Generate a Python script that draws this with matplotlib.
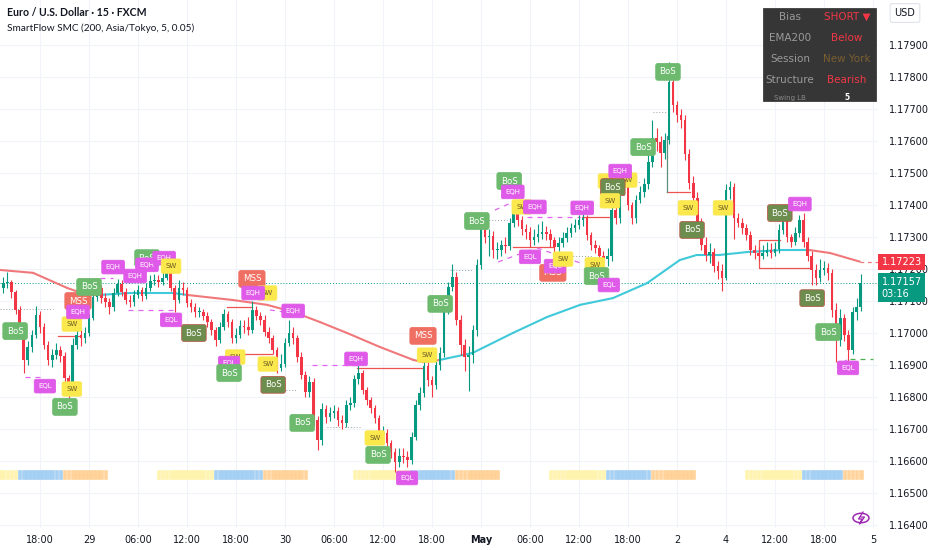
import numpy as np
import matplotlib.pyplot as plt
import matplotlib.transforms as mtransforms
from matplotlib.patches import Rectangle, Circle
from matplotlib.lines import Line2D

# 30-minute candles, prices in points (1e-5)
opens = [117140, 117156, 117159, 117128, 117072, 117025, 116916, 116956, 116994, 117056,
         117019, 116963, 116916, 116931, 116947, 116928, 116859, 116828, 116963, 116994,
         116984, 117000, 117047, 117113, 117141, 117109, 117097, 117081, 117125, 117153,
         117128, 117103, 117097, 117119, 117134, 117116, 117141, 117163, 117166, 117159,
         117172, 117188, 117141, 117103, 117141, 117134, 117094, 117081, 117066, 117066,
         117053, 117034, 117009, 116978, 117019, 117059, 117034, 116984, 116994, 117022,
         117019, 117009, 117072, 117053, 117041, 117003, 116984, 116947, 116891, 116903,
         116969, 117000, 116984, 116925, 116869, 116816, 116847, 116728, 116666, 116763,
         116738, 116750, 116756, 116728, 116719, 116775, 116781, 116856, 116875, 116822,
         116791, 116766, 116734, 116688, 116688, 116656, 116628, 116597, 116616, 116613,
         116603, 116675, 116775, 116813, 116897, 116853, 116838, 116900, 116938, 117072,
         117144, 117175, 117041, 116963, 116925, 116931, 117009, 117213, 117334, 117300,
         117303, 117259, 117259, 117275, 117272, 117344, 117388, 117353, 117325, 117316,
         117291, 117300, 117309, 117316, 117309, 117291, 117269, 117281, 117297, 117313,
         117328, 117338, 117353, 117359, 117306, 117275, 117266, 117241, 117231, 117241,
         117384, 117359, 117453, 117463, 117400, 117359, 117416, 117441, 117466, 117534,
         117609, 117597, 117563, 117603, 117784, 117713, 117681, 117666, 117559, 117469,
         117422, 117347, 117275, 117244, 117253, 117209, 117194, 117172, 117447, 117456,
         117359, 117344, 117328, 117306, 117259, 117250, 117241, 117250, 117259, 117250,
         117263, 117322, 117353, 117300, 117284, 117313, 117353, 117284, 117241, 117197,
         117172, 117197, 117203, 117188, 117072, 116978, 117047, 116994, 116947, 117066,
         117081]
closes = [117156, 117159, 117128, 117072, 117025, 116916, 116956, 116994, 117056, 117019,
          116963, 116916, 116931, 116947, 116928, 116859, 116828, 116963, 116994, 116984,
          117000, 117047, 117113, 117141, 117109, 117097, 117081, 117125, 117153, 117128,
          117103, 117097, 117119, 117134, 117116, 117141, 117163, 117166, 117159, 117172,
          117188, 117141, 117103, 117141, 117134, 117094, 117081, 117066, 117066, 117053,
          117034, 117009, 116978, 117019, 117059, 117034, 116984, 116994, 117022, 117019,
          117009, 117072, 117053, 117041, 117003, 116984, 116947, 116891, 116903, 116969,
          117000, 116984, 116925, 116869, 116816, 116847, 116728, 116666, 116763, 116738,
          116750, 116756, 116728, 116719, 116775, 116781, 116856, 116875, 116822, 116791,
          116766, 116734, 116688, 116688, 116656, 116628, 116597, 116616, 116613, 116603,
          116675, 116775, 116813, 116897, 116853, 116838, 116900, 116938, 117072, 117144,
          117175, 117041, 116963, 116925, 116931, 117009, 117213, 117334, 117300, 117303,
          117259, 117259, 117275, 117272, 117344, 117388, 117353, 117325, 117316, 117291,
          117300, 117309, 117316, 117309, 117291, 117269, 117281, 117297, 117313, 117328,
          117338, 117353, 117359, 117306, 117275, 117266, 117241, 117231, 117241, 117384,
          117359, 117453, 117463, 117400, 117359, 117416, 117441, 117466, 117534, 117609,
          117597, 117563, 117603, 117784, 117713, 117681, 117666, 117559, 117469, 117422,
          117347, 117275, 117244, 117253, 117209, 117194, 117172, 117447, 117456, 117359,
          117344, 117328, 117306, 117259, 117250, 117241, 117250, 117259, 117250, 117263,
          117322, 117353, 117300, 117284, 117313, 117353, 117284, 117241, 117197, 117172,
          117197, 117203, 117188, 117072, 116978, 117047, 116994, 116947, 117066, 117081,
          117157]
highs = [117175, 117190, 117165, 117135, 117085, 117030, 116975, 117010, 117085, 117070,
         117030, 116975, 116950, 116970, 116960, 116940, 116870, 116985, 117010, 117010,
         117020, 117060, 117125, 117160, 117150, 117125, 117110, 117140, 117170, 117165,
         117140, 117120, 117135, 117150, 117145, 117155, 117180, 117185, 117180, 117195,
         117210, 117195, 117150, 117165, 117160, 117145, 117105, 117095, 117080, 117075,
         117065, 117045, 117020, 117035, 117075, 117070, 117045, 117015, 117040, 117040,
         117050, 117100, 117085, 117065, 117055, 117020, 116995, 116955, 116935, 116985,
         117040, 117020, 116995, 116940, 116880, 116865, 116860, 116740, 116780, 116775,
         116770, 116775, 116770, 116745, 116790, 116800, 116870, 116900, 116885, 116830,
         116800, 116775, 116745, 116710, 116700, 116665, 116640, 116640, 116640, 116630,
         116690, 116790, 116830, 116915, 116910, 116865, 116915, 116955, 117085, 117160,
         117215, 117190, 117055, 116980, 116960, 117025, 117230, 117350, 117345, 117325,
         117320, 117285, 117290, 117300, 117360, 117415, 117400, 117365, 117340, 117330,
         117325, 117340, 117350, 117335, 117325, 117300, 117300, 117315, 117330, 117345,
         117355, 117370, 117378, 117370, 117315, 117290, 117275, 117255, 117265, 117400,
         117410, 117470, 117490, 117475, 117410, 117430, 117460, 117485, 117560, 117665,
         117640, 117615, 117625, 117847, 117800, 117725, 117700, 117680, 117575, 117490,
         117440, 117360, 117300, 117280, 117265, 117225, 117215, 117465, 117475, 117470,
         117375, 117360, 117340, 117320, 117275, 117270, 117275, 117285, 117280, 117285,
         117340, 117380, 117365, 117310, 117330, 117370, 117375, 117300, 117255, 117215,
         117230, 117225, 117220, 117200, 117095, 117075, 117060, 117010, 117080, 117110,
         117185]
lows = [117125, 117140, 117110, 117060, 117005, 116875, 116900, 116940, 116985, 117000,
        116950, 116900, 116895, 116920, 116910, 116840, 116795, 116815, 116950, 116960,
        116970, 116990, 117040, 117100, 117095, 117080, 117060, 117070, 117115, 117115,
        117090, 117080, 117085, 117110, 117100, 117105, 117130, 117150, 117145, 117150,
        117165, 117130, 117065, 117095, 117120, 117080, 117065, 117050, 117050, 117040,
        117020, 116995, 116960, 116970, 117010, 117020, 116970, 116970, 116985, 117000,
        116995, 117000, 117040, 117025, 116990, 116970, 116935, 116875, 116880, 116895,
        116960, 116965, 116910, 116855, 116800, 116800, 116710, 116635, 116650, 116720,
        116725, 116735, 116710, 116700, 116705, 116760, 116770, 116840, 116810, 116775,
        116750, 116720, 116670, 116670, 116640, 116610, 116565, 116580, 116595, 116580,
        116590, 116665, 116760, 116800, 116835, 116800, 116825, 116885, 116925, 117060,
        117130, 117025, 116930, 116880, 116820, 116905, 116990, 117200, 117280, 117240,
        117235, 117230, 117240, 117250, 117260, 117330, 117335, 117305, 117295, 117270,
        117275, 117285, 117295, 117290, 117270, 117240, 117255, 117270, 117285, 117300,
        117315, 117325, 117335, 117290, 117260, 117250, 117225, 117205, 117210, 117225,
        117340, 117345, 117430, 117385, 117340, 117345, 117405, 117425, 117450, 117520,
        117570, 117520, 117545, 117590, 117690, 117660, 117640, 117540, 117450, 117400,
        117330, 117260, 117225, 117220, 117190, 117170, 117130, 117165, 117420, 117295,
        117330, 117310, 117290, 117245, 117230, 117225, 117230, 117240, 117235, 117240,
        117250, 117310, 117285, 117270, 117275, 117300, 117270, 117225, 117150, 117150,
        117160, 117180, 117165, 117050, 116910, 116960, 116975, 116905, 116935, 117040,
        117070]

# EMA200 (bar index, price, 1 = price above)
ema_idx = [-0.8, 7.3, 15.6, 20.5, 23.7, 31.0, 41.6, 45.0, 56.3, 64.6, 71.0, 77.6, 84.2,
           92.3, 100.4, 102.8, 107.0, 115.0, 124.8, 133.2, 141.3, 149.3, 157.7, 165.7,
           169.9, 175.5, 182.2, 190.2, 197.6, 202.5, 209.8]
ema_val = [1.17197, 1.17188, 1.17141, 1.17119, 1.17119, 1.17125, 1.17125, 1.17119,
           1.17103, 1.17088, 1.17066, 1.17034, 1.17000, 1.16956, 1.16916, 1.16909,
           1.16916, 1.16938, 1.17000, 1.17050, 1.17088, 1.17109, 1.17156, 1.17228,
           1.17244, 1.17244, 1.17253, 1.17259, 1.17259, 1.17250, 1.17223]
ema_bull = [0, 0, 0, 0, 1, 1, 1, 0, 0, 0, 0, 0, 0, 0, 0, 0, 1, 1, 1, 1, 1, 1, 1, 1,
            1, 1, 1, 1, 0, 0, 0]

# structure labels
label_kind = ["BoS", "EQL", "BoS", "SW", "SW", "MSS", "EQH", "BoS", "EQH", "EQH", "BoS",
              "EQH", "EQH", "SW", "EQL", "BoSd", "MSS", "SW", "EQH", "EQH", "SW", "EQL",
              "BoS", "SW", "BoSd", "BoS", "EQH", "SW", "BoS", "EQL", "MSS", "SW", "BoS",
              "BoS", "BoS", "EQH", "SW", "EQH", "EQL", "EQH", "MSS", "EQL", "SW", "SW",
              "BoS", "EQL", "SW", "SW", "EQH", "BoSd", "SW", "BoS", "BoS", "SW", "BoSd",
              "SW", "BoSd", "EQH", "BoSd", "BoS", "EQL"]
label_idx = [2.9, 10.2, 15.1, 16.8, 16.8, 18.3, 18.3, 21.0, 26.9, 32.3, 35.2,
             35.2, 39.4, 41.1, 41.1, 46.7, 60.9, 64.6, 61.2, 71.0, 56.8, 55.3,
             55.3, 64.8, 66.1, 73.2, 86.4, 91.0, 91.8, 98.9, 102.8, 103.8, 107.0,
             116.0, 123.9, 124.8, 127.0, 130.2, 129.0, 141.8, 134.6, 135.1, 137.1, 144.9,
             145.3, 148.3, 148.1, 152.8, 151.1, 149.3, 148.6, 156.7, 162.8, 167.7, 168.7,
             176.3, 190.2, 195.1, 198.1, 202.0, 206.9]
label_price = [1.17006, 1.16834, 1.16769, 1.16825, 1.17028, 1.17100, 1.17066, 1.17144,
               1.17206, 1.17178, 1.17234, 1.17213, 1.17234, 1.17209, 1.17041, 1.17000,
               1.17169, 1.17125, 1.17125, 1.17069, 1.16925, 1.16906, 1.16875, 1.16903,
               1.16838, 1.16719, 1.16919, 1.16672, 1.16619, 1.16547, 1.16991, 1.16931,
               1.17091, 1.17350, 1.17475, 1.17441, 1.17394, 1.17394, 1.17238, 1.17391,
               1.17188, 1.17209, 1.17231, 1.17213, 1.17178, 1.17150, 1.17475, 1.17478,
               1.17506, 1.17456, 1.17413, 1.17581, 1.17816, 1.17391, 1.17322, 1.17391,
               1.17375, 1.17403, 1.17109, 1.17003, 1.16891]

# broken structure levels (start bar, end bar, price)
bos_lines = [(13.4, 18.8, 1.16991), (54.8, 60.9, 1.17081), (55.5, 65.8, 1.16934),
             (86.6, 102.8, 1.16891), (124.8, 134.6, 1.17269), (141.8, 149.1, 1.17363),
             (162.6, 168.2, 1.17441)]
range_box_x = [190.2, 185.0, 185.0, 197.6]
range_box_y = [1.17291, 1.17291, 1.17203, 1.17203]
eq_lines = [(5.3, 1.16863, 10.2, 1.16863), (23.7, 1.17172, 26.9, 1.17172),
            (30.6, 1.17072, 41.6, 1.17072), (65.3, 1.17072, 70.2, 1.17063),
            (75.6, 1.16900, 86.6, 1.16900), (120.4, 1.17384, 124.8, 1.17409),
            (128.3, 1.17363, 141.3, 1.17363), (121.2, 1.17222, 129.0, 1.17259),
            (130.7, 1.17266, 141.3, 1.17219), (204.2, 1.16891, 206.6, 1.16916)]
dot_lines = [(-0.8, 12.2, 1.17075), (67.8, 72.0, 1.16822), (79.3, 87.4, 1.16706),
             (109.4, 115.1, 1.17197), (117.5, 123.4, 1.17353), (159.1, 162.6, 1.17691),
             (152.8, 156.0, 1.17472), (138.1, 144.4, 1.17241)]

# sessions (first bar, last bar)
sessions = {
    "Asia":   ([-1, 38, 86, 134, 182], [3, 51, 99, 147, 195]),
    "London": ([4, 52, 100, 148, 196], [14, 63, 110, 158, 205]),
    "NewYork": ([15, 64, 111, 159, 206], [25, 74, 121, 169, 210]),
}
session_colors = {"Asia": "#fff3a6", "London": "#9ccbf3", "NewYork": "#ffcf8f"}

time_ticks = [9, 21, 33, 45, 57, 69, 81, 93, 105, 117, 129, 141, 153, 165, 177, 189, 201, 213]
time_labels = ["18:00", "29", "06:00", "12:00", "18:00", "30", "06:00", "12:00", "18:00",
               "May", "06:00", "12:00", "18:00", "2", "4", "12:00", "18:00", "5"]
price_ticks = [1.164, 1.165, 1.166, 1.167, 1.168, 1.169, 1.170, 1.171, 1.172,
               1.173, 1.174, 1.175, 1.176, 1.177, 1.178, 1.179]

last_price = 1.17157
ema_last = 1.17223

W, H = 932, 550
def fx(x):
    return x / W
def fy(y):
    return 1 - y / H

o = np.array(opens) / 1e5
c = np.array(closes) / 1e5
hi = np.array(highs) / 1e5
lo = np.array(lows) / 1e5
idx = np.arange(len(c))

fig = plt.figure(figsize=(9.32, 5.5), dpi=100)
ax = fig.add_axes([0, 22 / H, 878 / W, 528 / H])
ax.set_xlim(-0.8, 214.24)
ax.set_ylim(1.1639063, 1.1804063)
for s in ax.spines.values():
    s.set_visible(False)

ax.set_xticks(time_ticks)
ax.set_xticklabels(time_labels)
for t in ax.get_xticklabels():
    if t.get_text() == "May":
        t.set_fontweight("bold")
ax.set_yticks(price_ticks)
ax.set_yticklabels(["%.5f" % p for p in price_ticks])
ax.yaxis.tick_right()
ax.tick_params(axis="both", length=0, labelsize=7, colors="#131722")
ax.tick_params(axis="x", pad=5)
ax.tick_params(axis="y", pad=8)
ax.grid(color="#f0f3fa", lw=0.8)
ax.set_axisbelow(True)

# sessions
for name, (starts, ends) in sessions.items():
    xs = [i for a, b in zip(starts, ends) for i in range(a, b + 1)]
    ax.bar(xs, 0.00028, bottom=1.16544, width=0.9, color=session_colors[name],
           edgecolor=session_colors[name], lw=0.4, alpha=0.9, zorder=1)

# EMA
for k in range(len(ema_idx) - 1):
    col = "#3fc9d9" if ema_bull[k] else "#f0787a"
    ax.plot(ema_idx[k:k + 2], ema_val[k:k + 2], color=col, lw=1.5,
            solid_capstyle="round", zorder=2)
ax.plot([ema_idx[-1], 214.24], [ema_last, ema_last], color="#f0787a", lw=0.9,
        ls=(0, (3, 3)), zorder=2)

# last price line
ax.axhline(last_price, color="#089981", lw=0.7, ls=(0, (1, 2)), zorder=1.5)

# structure lines
for a, b, p in bos_lines:
    ax.plot([a, b], [p, p], color="#ef5350", lw=0.9, zorder=2.5)
ax.plot(range_box_x, range_box_y, color="#ef5350", lw=0.9, zorder=2.5)
ax.plot([162.6, 162.6], [1.17441, 1.17616], color="#5f8f7c", lw=0.9, zorder=2.5)
for a, pa, b, pb in eq_lines:
    ax.plot([a, b], [pa, pb], color="#e066f0", lw=0.9, ls=(0, (4, 4)), zorder=2.5)
ax.plot([207.4, 213.0], [1.16919, 1.16919], color="#4caf50", lw=0.9, ls=(0, (4, 4)), zorder=2.5)
for a, b, p in dot_lines:
    ax.plot([a, b], [p, p], color="#9aa0a8", lw=0.7, ls=(0, (1, 2)), zorder=2.5)

# candles
up = c >= o
cols = np.where(up, "#089981", "#f23645")
ax.vlines(idx, lo, hi, colors=cols, lw=0.8, zorder=3)
body = np.maximum(np.abs(c - o), 0.00002)
ax.bar(idx, body, bottom=np.minimum(o, c), width=0.62, color=cols, lw=0, zorder=3)

# labels
styles = {
    "BoS": ("#6dba6f", "#6dba6f", "white", 6.2, "BoS", 0.45),
    "BoSd": ("#6c8d4e", "#b85c4a", "white", 6.2, "BoS", 0.45),
    "MSS": ("#ef6f63", "#ef6f63", "white", 6.2, "MSS", 0.45),
    "EQH": ("#df5ae8", "#df5ae8", "white", 5.0, "EQH", 0.55),
    "EQL": ("#df5ae8", "#df5ae8", "white", 5.0, "EQL", 0.55),
    "SW": ("#fbe84c", "#fbe84c", "#6a5a25", 5.0, "SW", 0.6),
}
for kind, i, p in zip(label_kind, label_idx, label_price):
    fc, ec, tc, fs, txt, pad = styles[kind]
    ax.text(i, p, txt, ha="center", va="center", fontsize=fs, color=tc, zorder=6,
            bbox=dict(boxstyle="round,pad=%.2f,rounding_size=0.25" % pad, fc=fc, ec=ec, lw=0.6))

# price tags on the axis
blend = mtransforms.blended_transform_factory(ax.transAxes, ax.transData)
ax.text(1.004, ema_last, "%.5f" % ema_last, transform=blend, ha="left", va="center",
        fontsize=7, color="white", zorder=10, clip_on=False,
        bbox=dict(boxstyle="square,pad=0.32", fc="#f23645", ec="none"))
ax.annotate("%.5f\n03:16" % last_price, xy=(1.004, last_price), xycoords=blend,
            xytext=(0, 4.5), textcoords="offset points", ha="left", va="top",
            fontsize=7, color="white", zorder=10, annotation_clip=False, linespacing=1.25,
            bbox=dict(boxstyle="square,pad=0.32", fc="#089981", ec="none"))

# header
fig.text(fx(7), fy(13), "Euro / U.S. Dollar · 15 · FXCM", fontsize=7.6, weight="bold",
         family="Lato", color="#131722", va="center")
fig.text(fx(7), fy(28), "SmartFlow SMC (200, Asia/Tokyo, 5, 0.05)", fontsize=7.2,
         family="Lato", color="#131722", va="center")
fig.text(fx(905), fy(13), "USD", fontsize=7, color="#131722", ha="center", va="center",
         bbox=dict(boxstyle="round,pad=0.45,rounding_size=0.2", fc="white", ec="#e0e3eb", lw=0.8))

# info table
fig.patches.append(Rectangle((fx(763), fy(101)), fx(876) - fx(763), fy(8) - fy(101),
                             transform=fig.transFigure, fc="#363636", ec="#2a2a2a", lw=0.5,
                             zorder=20))
rows = [("Bias", "SHORT ▼", "#f23645", 17), ("EMA200", "Below", "#f23645", 38),
        ("Session", "New York", "#7b5e31", 59), ("Structure", "Bearish", "#f23645", 80)]
for left, right, rc, y in rows:
    fig.text(fx(790), fy(y), left, fontsize=7.5, color="#9a9a9a", ha="center", va="center", zorder=21)
    fig.text(fx(847), fy(y), right, fontsize=7.5, color=rc, ha="center", va="center", zorder=21)
fig.text(fx(790), fy(98), "Swing LB", fontsize=5, color="#8a8a8a", ha="center", va="center", zorder=21)
fig.text(fx(847), fy(98), "5", fontsize=5.5, color="white", weight="bold", ha="center",
         va="center", zorder=21)

# bolt icon
fig.patches.append(Circle((fx(861), fy(518)), 8 / W, transform=fig.transFigure, fill=False,
                          ec="#9c27b0", lw=1.1))
bx = [863, 858.5, 862, 859.5, 864.5, 861]
by = [512, 519, 519, 524, 517, 517]
fig.lines.append(Line2D([fx(v) for v in bx], [fy(v) for v in by], transform=fig.transFigure,
                        color="#9c27b0", lw=0.9))

fig.savefig("out.png", dpi=100)
